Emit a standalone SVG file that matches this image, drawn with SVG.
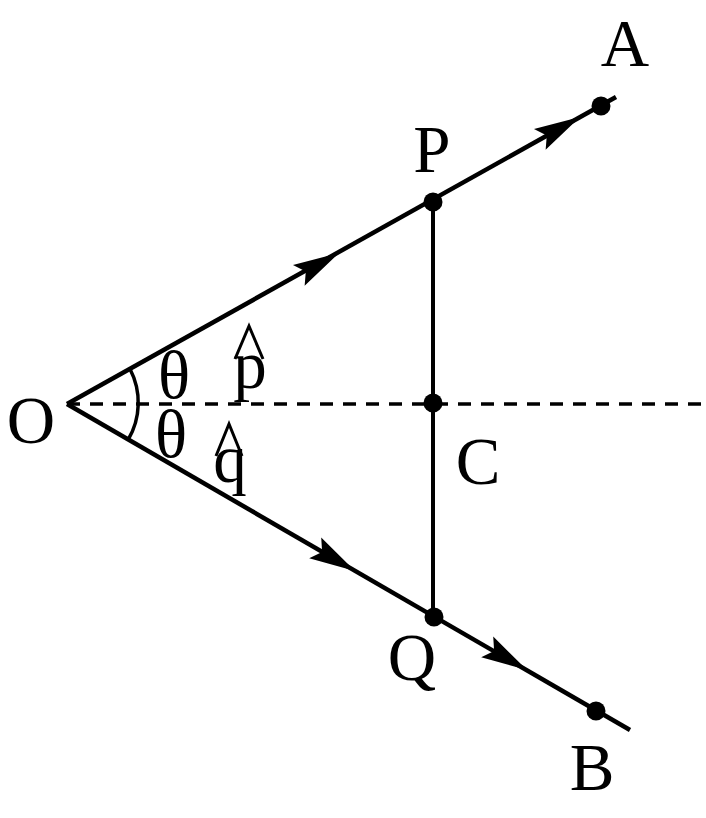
<svg xmlns="http://www.w3.org/2000/svg" width="706" height="818" viewBox="0 0 706 818">
<defs>
<style>
.ln{stroke:#000;stroke-width:4.5;fill:none;stroke-linecap:butt}
.dash{stroke:#000;stroke-width:3.5;fill:none;stroke-dasharray:13 10}
.dot{fill:#000}
.lbl{font-family:"Liberation Serif","Times New Roman",serif;font-size:67px;fill:#000;text-anchor:middle}
.hat{stroke:#000;stroke-width:3;fill:none;stroke-linejoin:miter}
</style>
<path id="arr" d="M0,0 L-46,-12 L-38,0 L-46,12 Z" fill="#000"/>
</defs>
<rect width="706" height="818" fill="#fff"/>
<g id="connectors">
<line class="dash" x1="67" y1="404" x2="706" y2="404"/>
<line class="ln" x1="67" y1="404" x2="616" y2="97"/>
<line class="ln" x1="67" y1="404" x2="630" y2="730"/>
<line class="ln" x1="433" y1="202" x2="433" y2="617" style="stroke-width:4"/>
<path class="ln" d="M130,369 A73,73 0 0 1 128,440" style="stroke-width:3.5"/>
<use href="#arr" transform="translate(339,253) rotate(-29.1)"/>
<use href="#arr" transform="translate(580,117) rotate(-29.1)"/>
<use href="#arr" transform="translate(355,571) rotate(30.1)"/>
<use href="#arr" transform="translate(527,670) rotate(30.1)"/>
</g>
<g id="O"><text class="lbl" x="31" y="443">O</text></g>
<g id="P"><circle class="dot" cx="433" cy="202" r="9.5"/><text class="lbl" x="432" y="172">P</text></g>
<g id="A"><circle class="dot" cx="601" cy="106" r="9.5"/><text class="lbl" x="625" y="66">A</text></g>
<g id="C"><circle class="dot" cx="433" cy="403" r="9.5"/><text class="lbl" x="478" y="484">C</text></g>
<g id="Q"><circle class="dot" cx="434" cy="617" r="9.5"/><text class="lbl" x="412" y="680">Q</text></g>
<g id="B"><circle class="dot" cx="596" cy="711" r="9.5"/><text class="lbl" x="592" y="790">B</text></g>
<g id="theta1"><text class="lbl" x="174" y="398">θ</text></g>
<g id="theta2"><text class="lbl" x="171" y="457">θ</text></g>
<g id="p-hat"><text class="lbl" x="250" y="388">p</text><polyline class="hat" points="235,359 249,326 263,359"/></g>
<g id="q-hat"><text class="lbl" x="230" y="482">q</text><polyline class="hat" points="216,456 229,424 242,456"/></g>
</svg>
